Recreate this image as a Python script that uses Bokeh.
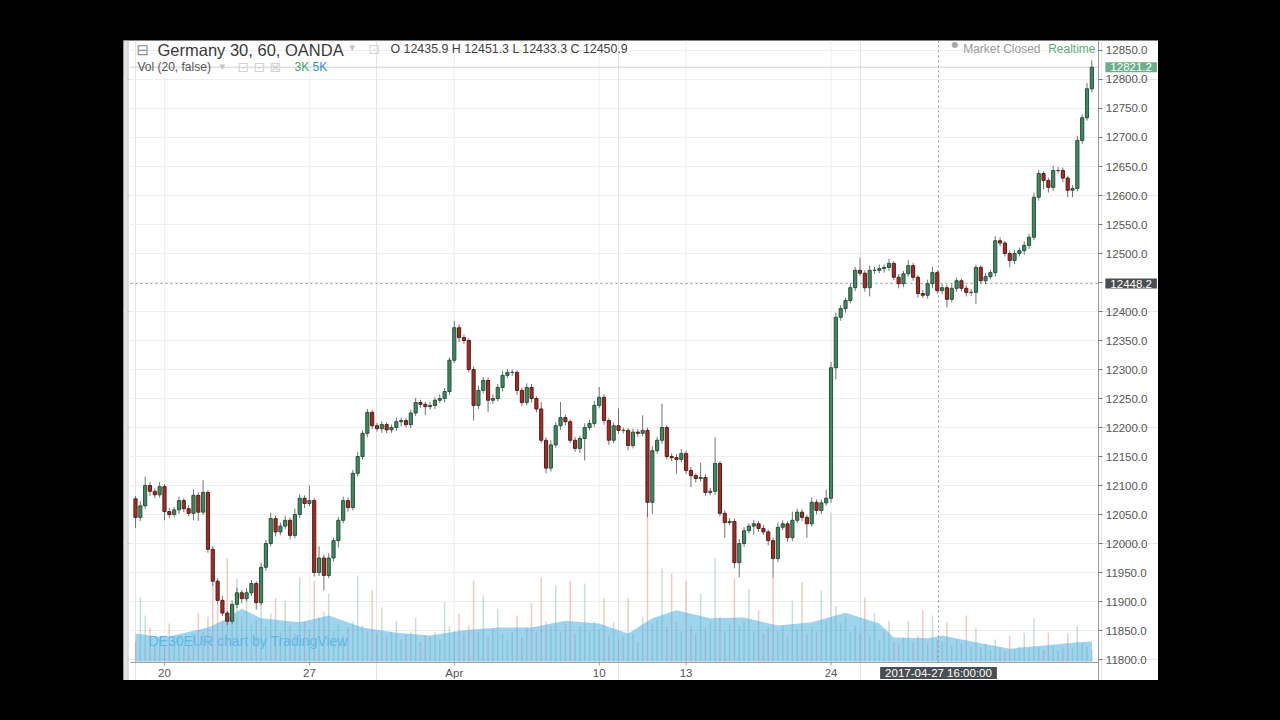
from bokeh.plotting import figure
from bokeh.models import Range1d, Label, ColumnDataSource, Spacer
from bokeh.layouts import row, column
from bokeh.core.properties import value
from bokeh.embed import file_html
from bokeh.resources import INLINE

# ---------------- data ----------------
first_open = 12077
closes = [
    12045, 12065, 12100, 12090, 12084, 12098, 12055, 12050, 12058, 12074,
    12060, 12052, 12083, 12054, 12088, 11990, 11935, 11902, 11880, 11866,
    11895, 11915, 11905, 11915, 11931, 11898, 11959, 12000, 12043, 12020,
    12030, 12040, 12014, 12050, 12078, 12069, 12074, 11950, 11975, 11945,
    11975, 12005, 12040, 12074, 12062, 12121, 12150, 12190, 12226, 12203,
    12198, 12205, 12196, 12200, 12210, 12212, 12205, 12225, 12243, 12240,
    12236, 12238, 12247, 12250, 12262, 12316, 12372, 12355, 12350, 12300,
    12238, 12264, 12281, 12247, 12250, 12269, 12290, 12295, 12295, 12264,
    12243, 12269, 12250, 12232, 12178, 12130, 12170, 12203, 12217, 12210,
    12178, 12164, 12181, 12200, 12207, 12238, 12252, 12212, 12178, 12203,
    12195, 12195, 12169, 12192, 12190, 12195, 12071, 12160, 12178, 12200,
    12150, 12148, 12145, 12155, 12126, 12117, 12112, 12114, 12088, 12090,
    12138, 12052, 12036, 12038, 11967, 12000, 12022, 12030, 12034, 12026,
    12020, 12005, 11974, 12028, 12034, 12010, 12040, 12054, 12045, 12034,
    12071, 12057, 12070, 12078, 12303, 12390, 12405, 12419, 12441, 12471,
    12466, 12441, 12471, 12471, 12474, 12476, 12483, 12459, 12448, 12465,
    12479, 12459, 12431, 12428, 12448, 12467, 12436, 12441, 12421, 12440,
    12453, 12440, 12433, 12433, 12476, 12453, 12460, 12467, 12522, 12518,
    12500, 12488, 12500, 12505, 12514, 12528, 12597, 12638, 12626, 12614,
    12643, 12643, 12630, 12609, 12612, 12695, 12734, 12784, 12821.2,
]
wick_up = [
    5, 8, 15, 6, 5, 8, 4, 6, 5, 7,
    4, 6, 10, 5, 21, 4, 6, 5, 8, 4,
    7, 9, 5, 8, 6, 4, 8, 6, 10, 5,
    6, 8, 5, 10, 7, 5, 26, 4, 20, 6,
    8, 5, 6, 7, 5, 6, 8, 5, 6, 4,
    5, 6, 4, 5, 7, 5, 4, 6, 8, 5,
    4, 6, 5, 7, 6, 5, 12, 6, 5, 4,
    5, 8, 6, 5, 7, 6, 8, 6, 5, 4,
    5, 7, 6, 4, 12, 5, 8, 6, 27, 5,
    4, 6, 5, 7, 6, 8, 18, 5, 4, 6,
    30, 5, 4, 6, 5, 26, 5, 8, 6, 41,
    4, 5, 6, 8, 5, 6, 4, 25, 5, 6,
    45, 4, 5, 6, 5, 8, 6, 5, 7, 5,
    6, 4, 5, 8, 6, 5, 15, 6, 5, 4,
    8, 5, 6, 15, 10, 8, 6, 5, 7, 6,
    22, 5, 8, 6, 7, 5, 8, 4, 6, 5,
    10, 5, 4, 6, 7, 10, 4, 6, 5, 7,
    6, 4, 5, 6, 5, 4, 6, 5, 8, 6,
    4, 5, 6, 5, 7, 6, 8, 6, 4, 5,
    8, 6, 5, 4, 6, 8, 6, 10, 12,
]
wick_dn = [
    18, 6, 5, 8, 6, 5, 15, 6, 5, 7,
    6, 5, 12, 15, 5, 6, 8, 6, 5, 7,
    5, 6, 8, 5, 6, 12, 5, 6, 5, 8,
    6, 5, 7, 5, 6, 8, 5, 7, 6, 26,
    5, 6, 12, 5, 7, 5, 6, 5, 7, 6,
    5, 7, 6, 5, 6, 8, 5, 6, 5, 6,
    15, 5, 6, 5, 7, 6, 5, 8, 6, 5,
    26, 6, 5, 20, 6, 5, 7, 5, 6, 8,
    6, 5, 7, 6, 5, 9, 6, 5, 7, 6,
    5, 6, 8, 38, 5, 6, 5, 7, 8, 5,
    6, 5, 8, 5, 6, 5, 26, 20, 5, 6,
    5, 6, 25, 5, 6, 20, 7, 5, 6, 5,
    6, 5, 26, 5, 10, 25, 6, 5, 15, 6,
    5, 8, 33, 6, 5, 7, 6, 5, 6, 24,
    5, 7, 6, 5, 8, 20, 6, 7, 5, 6,
    5, 7, 15, 6, 5, 7, 6, 5, 8, 6,
    5, 6, 7, 5, 6, 8, 5, 6, 14, 5,
    6, 5, 7, 6, 20, 5, 6, 5, 7, 6,
    5, 12, 6, 5, 7, 6, 5, 6, 15, 9,
    6, 5, 7, 12, 12, 5, 6, 5, 6,
]
volume_k = [
    5.0, 16.0, 11.5, 8.5, 4.5, 5.5, 3.8, 9.5, 5.0, 6.2,
    4.2, 5.5, 7.0, 12.2, 7.5, 11.2, 19.5, 14.5, 10.0, 25.8,
    12.5, 20.8, 11.2, 17.8, 9.5, 10.5, 17.2, 8.8, 12.0, 15.8,
    7.5, 15.2, 9.0, 7.0, 21.0, 10.0, 8.0, 20.2, 11.0, 12.5,
    17.0, 7.5, 9.5, 6.5, 8.5, 10.0, 21.5, 9.0, 7.5, 17.8,
    7.0, 13.5, 6.2, 7.5, 10.2, 5.5, 6.8, 7.5, 11.0, 5.0,
    6.5, 6.0, 7.5, 5.5, 14.8, 8.8, 7.5, 12.0, 7.0, 9.0,
    20.2, 7.5, 16.5, 6.2, 8.0, 13.2, 7.0, 5.5, 7.5, 11.5,
    6.0, 8.5, 14.5, 7.5, 21.0, 10.0, 8.8, 19.0, 7.5, 9.5,
    20.2, 7.0, 8.8, 19.5, 7.5, 10.0, 8.0, 15.8, 6.5, 9.8,
    5.5, 6.2, 15.8, 7.0, 5.0, 11.2, 37.8, 9.5, 10.5, 23.2,
    8.8, 22.0, 10.0, 7.5, 20.2, 9.0, 7.0, 17.0, 8.5, 10.0,
    25.8, 11.2, 7.5, 9.5, 20.8, 9.0, 10.0, 18.2, 7.5, 12.8,
    7.0, 8.5, 21.0, 7.5, 9.0, 6.2, 15.2, 8.0, 19.8, 7.0,
    8.5, 7.5, 17.8, 10.0, 37.2, 13.8, 9.5, 11.2, 7.5, 9.0,
    7.0, 16.0, 6.2, 12.2, 5.5, 7.5, 10.2, 5.0, 4.5, 6.0,
    10.2, 5.0, 6.5, 12.8, 4.5, 11.5, 5.5, 5.0, 9.8, 4.0,
    5.5, 4.5, 11.5, 3.8, 8.5, 3.5, 4.5, 3.0, 5.5, 3.5,
    2.5, 6.5, 3.0, 3.8, 7.2, 3.2, 10.8, 3.5, 3.0, 7.2,
    3.8, 2.8, 3.5, 7.0, 3.2, 9.0, 4.5, 3.8, 3.0,
]
vol_ma_bar = [0, 6, 15, 18, 22, 26, 34, 40, 47, 54, 61, 68, 75, 82, 89, 96, 102,
              107, 112, 119, 126, 133, 140, 147, 154, 157, 164, 167, 174, 181,
              188, 195, 198]
vol_ma_k = [7.0, 6.0, 8.5, 10.2, 13.2, 10.8, 9.8, 11.5, 8.5, 7.2, 6.5, 7.8, 8.5,
            8.5, 10.2, 9.5, 7.0, 10.8, 12.8, 10.8, 11.0, 9.0, 9.8, 12.2, 9.5,
            6.0, 5.8, 6.5, 4.8, 3.2, 4.0, 4.8, 5.0]

day_tick_bars = [6, 36, 66, 96, 114, 144]
day_tick_labels = ["20", "27", "Apr", "10", "13", "24"]
price_ticks = list(range(11800, 12851, 50))
price_tick_labels = ["%.1f" % t for t in price_ticks]

last_price = 12821.2
cross_bar = 166.25
cross_price = 12448.2
cross_time = "2017-04-27 16:00:00"

# ---------------- layout constants (pane edges in data units) ----------------
PANE_L, PANE_R = -1.035, 199.38        # candle pane left / right (price axis line)
PANE_B, PANE_T = 11794.9, 12867.2      # candle pane bottom (time axis line) / top
FIG_B = 11763.8                        # bottom of white chart area
LABEL_X = 200.9                        # price labels left edge
TICK_X = 200.2                         # end of price ticks
TIME_Y = 11776.9                       # centre of time labels
TICK_Y = 11789.7                       # end of time ticks

# ---------------- derived OHLC ----------------
n = len(closes)
idx = list(range(n))
opens = [first_open] + closes[:-1]
highs = [max(o, c) + u for o, c, u in zip(opens, closes, wick_up)]
lows = [min(o, c) - d for o, c, d in zip(opens, closes, wick_dn)]
up = [c >= o for o, c in zip(opens, closes)]
dn = [not u for u in up]

def pick(seq, mask):
    return [s for s, m in zip(seq, mask) if m]

src_up = ColumnDataSource(dict(x=pick(idx, up), o=pick(opens, up), c=pick(closes, up),
                               h=pick(highs, up), l=pick(lows, up), v=pick(volume_k, up)))
src_dn = ColumnDataSource(dict(x=pick(idx, dn), o=pick(opens, dn), c=pick(closes, dn),
                               h=pick(highs, dn), l=pick(lows, dn), v=pick(volume_k, dn)))

FONT = "Liberation Sans"
AXIS_COL = "#9a9a9a"
LABEL_COL = "#555555"

p = figure(width=1035, height=640, output_backend="svg", toolbar_location=None,
           x_range=Range1d(-2.484, 211.80), y_range=Range1d(FIG_B, 12867.24),
           x_axis_location=None, y_axis_location=None,
           min_border_left=0, min_border_right=0, min_border_top=0, min_border_bottom=0,
           title=None, background_fill_color="white", border_fill_color="white")
p.outline_line_color = None
p.extra_y_ranges = {"vol": Range1d(-4.75, 155.25)}

# left strip of the chart window
p.quad(left=-2.484, right=-1.66, bottom=FIG_B, top=PANE_T, fill_color="#e4e4e4", line_color=None)
p.segment(x0=-1.55, x1=-1.55, y0=FIG_B, y1=PANE_T, line_color="#bdbdbd", line_width=1)

# grid
p.segment(x0=PANE_L, x1=PANE_R, y0=price_ticks, y1=price_ticks, line_color="#efefef", line_width=1)
p.segment(x0=day_tick_bars, x1=day_tick_bars, y0=PANE_B, y1=PANE_T, line_color="#f0f0f0", line_width=1)

# volume
p.vbar(x="x", top="v", bottom=0, width=0.32, source=src_up, y_range_name="vol",
       fill_color="#6ba583", line_color=None, fill_alpha=0.35)
p.vbar(x="x", top="v", bottom=0, width=0.32, source=src_dn, y_range_name="vol",
       fill_color="#d75442", line_color=None, fill_alpha=0.3)
p.varea(x=vol_ma_bar, y1=[0] * len(vol_ma_bar), y2=vol_ma_k, y_range_name="vol",
        fill_color="#40a9e0", fill_alpha=0.5)

# current price line and crosshair
p.segment(x0=PANE_L, x1=PANE_R, y0=last_price, y1=last_price, line_color="#d0d0d0", line_width=1)
p.segment(x0=PANE_L, x1=PANE_R, y0=cross_price, y1=cross_price, line_color="#9598a1",
          line_width=1, line_dash="2 3")
p.segment(x0=cross_bar, x1=cross_bar, y0=PANE_B, y1=PANE_T, line_color="#9598a1",
          line_width=1, line_dash="2 3")

# candles
p.segment(x0="x", y0="l", x1="x", y1="h", source=src_up, line_color="#737375", line_width=1)
p.segment(x0="x", y0="l", x1="x", y1="h", source=src_dn, line_color="#737375", line_width=1)
p.vbar(x="x", top="c", bottom="o", width=0.65, source=src_up,
       fill_color="#3f8a62", line_color="#24523a", line_width=1)
p.vbar(x="x", top="o", bottom="c", width=0.65, source=src_dn,
       fill_color="#9c2f2a", line_color="#5e1a15", line_width=1)

# axes (drawn in the chart window)
p.segment(x0=PANE_R, x1=PANE_R, y0=FIG_B, y1=PANE_T, line_color=AXIS_COL, line_width=1)
p.segment(x0=PANE_L, x1=PANE_R, y0=PANE_B, y1=PANE_B, line_color=AXIS_COL, line_width=1)
p.segment(x0=PANE_R, x1=TICK_X, y0=price_ticks, y1=price_ticks, line_color="#777777", line_width=1)
p.segment(x0=day_tick_bars, x1=day_tick_bars, y0=PANE_B, y1=TICK_Y, line_color=AXIS_COL, line_width=1)
p.text(x=LABEL_X, y=price_ticks, text=price_tick_labels, text_color=LABEL_COL,
       text_font=value(FONT), text_font_size="11.5px", text_align="left", text_baseline="middle")
p.text(x=day_tick_bars, y=TIME_Y, text=day_tick_labels, text_color=LABEL_COL,
       text_font=value(FONT), text_font_size="11.5px", text_align="center", text_baseline="middle")

def slabel(text, x, y, color, size="12px", font=FONT, align="left", baseline="middle"):
    p.add_layout(Label(text=text, x=x, y=y, x_units="screen", y_units="screen",
                       text_color=color, text_font=font, text_font_size=size,
                       text_align=align, text_baseline=baseline))

# header
slabel("\u229f", 13, 639.5, "#8c8c8c", "15px", "DejaVu Sans", baseline="top")
slabel("Germany 30, 60, OANDA", 34, 639.5, "#3a3a3a", "16.5px", baseline="top")
slabel("\u25be", 226, 639.5, "#c4c4c4", "11px", "DejaVu Sans", baseline="top")
slabel("\u22a1", 245, 639.5, "#d2d2d2", "14px", "DejaVu Sans", baseline="top")
slabel("O 12435.9 H 12451.3 L 12433.3 C 12450.9", 267, 639, "#3f3f3f", "12.4px", baseline="top")
slabel("Vol (20, false)", 14, 614, "#555555", "12px")
slabel("\u25be", 96, 614, "#c4c4c4", "11px", "DejaVu Sans")
slabel("\u22a1 \u22a1 \u22a0", 114, 614, "#d2d2d2", "14px", "DejaVu Sans")
slabel("3K", 171, 614, "#3fa55f", "12px")
slabel("5K", 189, 614, "#2f8fd8", "12px")
slabel("\u25cf", 828, 636, "#a8a8a8", "8px", "DejaVu Sans")
slabel("Market Closed", 917, 639, "#9a9a9a", "12px", align="right", baseline="top")
slabel("Realtime", 972, 639, "#5fa97a", "12px", align="right", baseline="top")
slabel("DE30EUR chart by TradingView", 25, 40, "#5db8e3", "14px")

# value boxes on the axes
pad = dict(left=5, right=5, top=1, bottom=1)
for txt, yv, col in [("12821.2", last_price, "#6aae8a"), ("12448.2", cross_price, "#4a4d52")]:
    p.add_layout(Label(text=txt, x=LABEL_X - 0.1, y=yv, text_color="white", text_font=FONT,
                       text_font_size="11.5px", text_align="left", text_baseline="middle",
                       background_fill_color=col, padding=pad))
p.add_layout(Label(text=cross_time, x=cross_bar, y=TIME_Y, text_color="white", text_font=FONT,
                   text_font_size="11.5px", text_align="center", text_baseline="middle",
                   background_fill_color="#4a4d52",
                   padding=dict(left=5, right=5, top=0, bottom=0)))

layout = column(Spacer(width=10, height=40), row(Spacer(width=123, height=10), p))

html = file_html(layout, INLINE)
html = html.replace("</head>", "<style>html,body{background:#000000;}</style></head>", 1)
open("out.html", "w").write(html)
